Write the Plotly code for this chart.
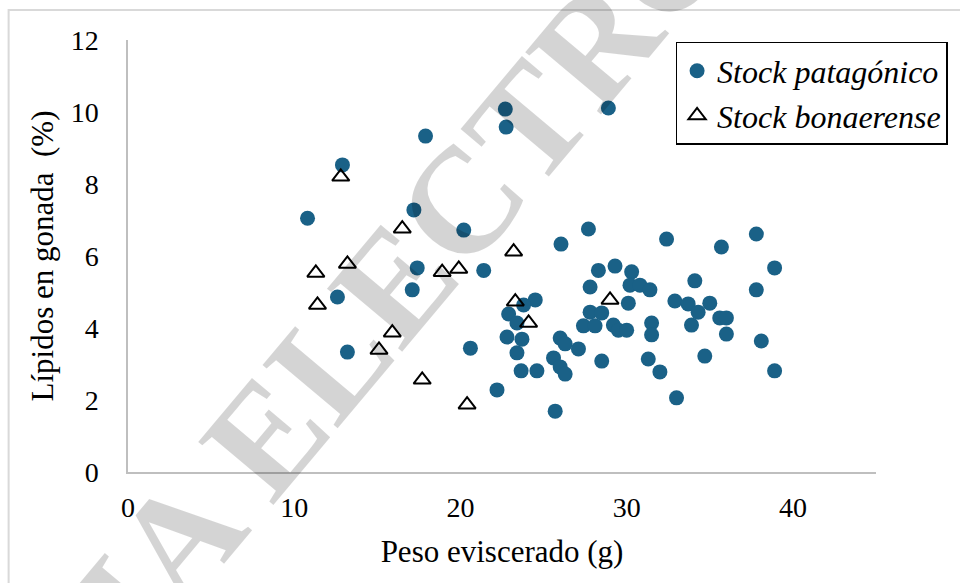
import plotly.graph_objects as go

# Stock patagónico
pat_x = [10.8, 12.9, 12.6, 13.2, 17.9, 17.2, 17.4, 17.1, 20.2, 20.6,
         22.7, 22.75, 28.9, 21.4, 26.05, 27.7, 32.4, 35.7, 37.8, 38.9,
         28.3, 29.3, 30.3, 30.2, 30.8, 31.4, 27.8, 34.1, 37.8, 24.5,
         23.8, 22.9, 23.4, 22.8, 23.7, 23.4, 23.65, 24.6, 22.2, 25.7,
         25.6, 26.0, 26.3, 26.0, 26.3, 27.1, 28.5, 27.8, 28.5, 27.4,
         28.1, 29.2, 29.5, 30.0, 30.1, 32.9, 33.7, 34.3, 35.0, 35.6,
         36.0, 36.0, 33.9, 31.5, 31.5, 31.3, 32.0, 33.0, 34.7, 38.1, 38.9]
pat_y = [7.05, 8.53, 4.86, 3.33, 9.33, 7.28, 5.67, 5.06, 6.72, 3.44,
         10.08, 9.58, 10.11, 5.6, 6.33, 6.75, 6.47, 6.25, 6.61, 5.67,
         5.6, 5.72, 5.56, 5.19, 5.19, 5.06, 5.14, 5.31, 5.06, 4.78,
         4.64, 4.39, 4.14, 3.75, 3.69, 3.31, 2.81, 2.81, 2.28, 1.69,
         3.17, 3.72, 3.56, 2.92, 2.72, 3.42, 3.08, 4.44, 4.42, 4.06,
         4.06, 4.08, 3.94, 3.94, 4.69, 4.75, 4.67, 4.44, 4.69, 4.28,
         4.28, 3.83, 4.08, 4.14, 3.81, 3.14, 2.78, 2.06, 3.22, 3.64, 2.81]

# Stock bonaerense
bon_x = [12.8, 16.5, 11.3, 13.2, 18.9, 19.9, 11.4, 15.9, 15.1, 17.7,
         20.4, 23.2, 23.3, 24.1, 29.0]
bon_y = [8.2, 6.76, 5.53, 5.78, 5.55, 5.64, 4.64, 3.87, 3.39, 2.56,
         1.87, 6.12, 4.73, 4.14, 4.78]

x_ticks = [0, 10, 20, 30, 40]
y_ticks = [0, 2, 4, 6, 8, 10, 12]

SERIF = "Liberation Serif"
BLUE = "#1a6187"

fig = go.Figure()
fig.add_trace(go.Scatter(
    x=pat_x, y=pat_y, mode="markers", name="<i>Stock patagónico</i>",
    marker=dict(symbol="circle", size=15, color=BLUE, line=dict(width=0)),
))
fig.add_trace(go.Scatter(
    x=bon_x, y=bon_y, mode="markers", name="<i>Stock bonaerense</i>",
    marker=dict(symbol="triangle-up-open", size=15, color="black",
                line=dict(width=2, color="black")),
))

axis_common = dict(
    showgrid=False, zeroline=False, showline=True,
    linecolor="#bfbfbf", linewidth=1.5,
    ticks="outside", tickcolor="rgba(0,0,0,0)",
    tickfont=dict(family=SERIF, size=28, color="black"),
)

fig.update_layout(
    width=960, height=583,
    margin=dict(l=128, r=80, t=40, b=111),
    paper_bgcolor="white", plot_bgcolor="white",
    font=dict(family=SERIF, color="black"),
    xaxis=dict(range=[0, 45], tickvals=x_ticks, ticklen=10,
               title=dict(text="Peso eviscerado (g)",
                          font=dict(family=SERIF, size=31, color="black"),
                          standoff=18),
               **axis_common),
    yaxis=dict(range=[0, 12], tickvals=y_ticks, ticklen=22,
               title=dict(text="Lípidos en gonada  (%)",
                          font=dict(family=SERIF, size=31, color="black"),
                          standoff=8),
               **axis_common),
    legend=dict(x=1.0957, y=0.9954, xanchor="right", yanchor="top",
                bordercolor="black", borderwidth=1.5, bgcolor="white",
                font=dict(family=SERIF, size=32, color="black"),
                itemwidth=30, tracegroupgap=0),
    showlegend=True,
)

# outer frame of the original figure
fig.add_shape(type="rect", xref="paper", yref="paper",
              x0=-0.1596, y0=-0.5, x1=1.3, y1=1.0694,
              line=dict(color="#d9d9d9", width=2), fillcolor="rgba(0,0,0,0)",
              layer="below")

# watermark
fig.add_annotation(text="<b>COPIA ELECTRONICA</b>", xref="paper", yref="paper",
                   x=0.399, y=0.531, xanchor="center", yanchor="middle",
                   showarrow=False, textangle=-50,
                   font=dict(family=SERIF, size=150, color="rgba(0,0,0,0.17)"))

fig.write_html("out.html")
